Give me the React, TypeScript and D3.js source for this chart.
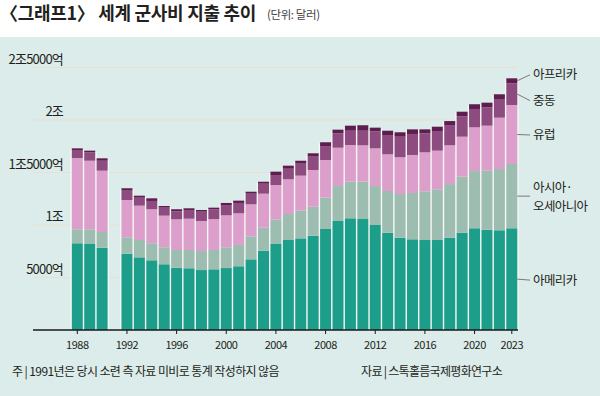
import React from "react";
import * as d3 from "d3";

const years = [1988, 1989, 1990, 1992, 1993, 1994, 1995, 1996, 1997, 1998, 1999, 2000, 2001, 2002, 2003, 2004, 2005, 2006, 2007, 2008, 2009, 2010, 2011, 2012, 2013, 2014, 2015, 2016, 2017, 2018, 2019, 2020, 2021, 2022, 2023];
// billions of USD
const americas = [826, 819, 784, 727, 692, 664, 626, 593, 588, 571, 578, 590, 607, 673, 755, 819, 857, 873, 898, 962, 1038, 1064, 1057, 1000, 927, 879, 864, 857, 857, 879, 927, 969, 955, 950, 969];
const asiaOceania = [133, 140, 149, 156, 165, 162, 162, 169, 174, 181, 184, 198, 203, 219, 219, 235, 248, 263, 276, 298, 333, 349, 356, 371, 397, 416, 441, 464, 483, 511, 533, 545, 562, 583, 612];
const europe = [679, 653, 584, 355, 327, 324, 301, 292, 298, 286, 295, 304, 301, 305, 324, 327, 330, 334, 350, 359, 365, 349, 346, 359, 349, 350, 362, 371, 368, 369, 381, 416, 429, 489, 562];
const middleEast = [76, 80, 95, 89, 76, 79, 76, 76, 83, 89, 92, 98, 99, 101, 95, 95, 101, 114, 127, 133, 137, 136, 139, 162, 178, 196, 200, 181, 187, 193, 194, 175, 175, 178, 207];
const africa = [16, 16, 23, 23, 19, 25, 16, 20, 16, 16, 16, 20, 22, 19, 19, 32, 29, 28, 32, 36, 35, 48, 52, 35, 47, 42, 44, 38, 41, 38, 44, 45, 44, 45, 47];

const seriesKeys = ["americas", "asia", "europe", "mideast", "africa"];
const seriesNames = ["아메리카", "아시아·오세아니아", "유럽", "중동", "아프리카"];
const seriesColors = ["#1c9e8a", "#9dbdb1", "#dc9ecb", "#8e4b80", "#5e1d4f"];

const yTicks = [500, 1000, 1500, 2000, 2500];
const yTickLabels = ["5000억", "1조", "1조5000억", "2조", "2조5000억"];
const xTicks = [1988, 1992, 1996, 2000, 2004, 2008, 2012, 2016, 2020, 2023];

const title = "〈그래프1〉 세계 군사비 지출 추이";
const unit = "(단위: 달러)";
const note = "주 | 1991년은 당시 소련 측 자료 미비로 통계 작성하지 않음";
const source = "자료 | 스톡홀름국제평화연구소";

const W = 600;
const H = 396;
const FONT = "'Noto Sans CJK KR', 'Noto Sans', sans-serif";

export default function App() {
  const table = years.map((yr, i) => ({
    year: yr,
    americas: americas[i],
    asia: asiaOceania[i],
    europe: europe[i],
    mideast: middleEast[i],
    africa: africa[i],
  }));
  const stacked = d3.stack<any>().keys(seriesKeys)(table);

  const x = d3.scaleLinear().domain([1988, 2023]).range([77.3, 511.8]);
  const y = d3.scaleLinear().domain([0, 2500]).range([330, 67.5]);
  const bw = 11;
  const gap = 1.4;

  const last = years.length - 1;
  const mids = stacked.map((s) => (y(s[last][0]) + y(s[last][1])) / 2);
  const labelOffsets = [1, 0, 0.5, 6.5, -6];
  const lineStartX = x(2023) + bw / 2;

  return (
    <svg width={W} height={H} style={{ position: "absolute", left: 0, top: 0, fontFamily: FONT }}>
      <rect x={0} y={0} width={W} height={H} fill="#ffffff" />
      <rect x={0} y={37} width={W} height={H - 37} fill="#dcecea" />

      {/* title */}
      <text x={0} y={19.5} fontSize={18} fontWeight={700} fill="#231f20" letterSpacing={-0.3}>
        {title}
      </text>
      <text x={267} y={18.5} fontSize={11.5} fill="#444" letterSpacing={-0.4}>
        {unit}
      </text>

      {/* grid */}
      {yTicks.map((t, i) => (
        <g key={t}>
          <line x1={33} x2={517} y1={y(t)} y2={y(t)} stroke="#eadfd2" strokeWidth={1} />
          <text x={63} y={y(t) - 4} textAnchor="end" fontSize={13} fill="#231f20" letterSpacing={-0.8}>
            {yTickLabels[i]}
          </text>
        </g>
      ))}

      {/* white separators behind bars */}
      {table.map((d, i) => (
        <rect
          key={"bg" + d.year}
          x={x(d.year) - bw / 2 - gap}
          y={y(stacked[stacked.length - 1][i][1]) + 1}
          width={bw + gap * 2}
          height={y(0) - y(stacked[stacked.length - 1][i][1]) - 1}
          fill="#f4f8f6"
        />
      ))}

      {/* bars */}
      {stacked.map((s, si) => (
        <g key={seriesKeys[si]} fill={seriesColors[si]}>
          {s.map((d: any, i: number) => (
            <rect
              key={years[i]}
              x={x(years[i]) - bw / 2}
              y={y(d[1])}
              width={bw}
              height={y(d[0]) - y(d[1])}
            />
          ))}
        </g>
      ))}

      {/* x axis */}
      <line x1={33} x2={518} y1={y(0)} y2={y(0)} stroke="#1a1a1a" strokeWidth={1.5} />
      {xTicks.map((t) => (
        <g key={t}>
          <line x1={x(t)} x2={x(t)} y1={y(0)} y2={y(0) + 4} stroke="#1a1a1a" strokeWidth={1} />
          <text x={x(t)} y={349} textAnchor="middle" fontSize={11} fill="#231f20" letterSpacing={-0.5}>
            {t}
          </text>
        </g>
      ))}

      {/* legend labels */}
      {seriesKeys.map((k, si) => {
        const ly = mids[si] + labelOffsets[si];
        const lines = si === 1 ? ["아시아·", "오세아니아"] : [seriesNames[si]];
        return (
          <g key={"lg" + k}>
            <line x1={lineStartX} y1={mids[si]} x2={530} y2={ly} stroke="#7a7a7a" strokeWidth={1} />
            {lines.map((t, li) => (
              <text
                key={li}
                x={533}
                y={ly + 4.5 + (lines.length === 2 ? (li === 0 ? -9 : 10) : 0)}
                fontSize={12.5}
                fill="#231f20"
                letterSpacing={-0.6}
              >
                {t}
              </text>
            ))}
          </g>
        );
      })}

      {/* footer */}
      <text x={12} y={376} fontSize={12} fill="#231f20" letterSpacing={-0.6}>
        {note}
      </text>
      <text x={502} y={376} textAnchor="end" fontSize={12} fill="#231f20" letterSpacing={-0.7}>
        {source}
      </text>
    </svg>
  );
}
